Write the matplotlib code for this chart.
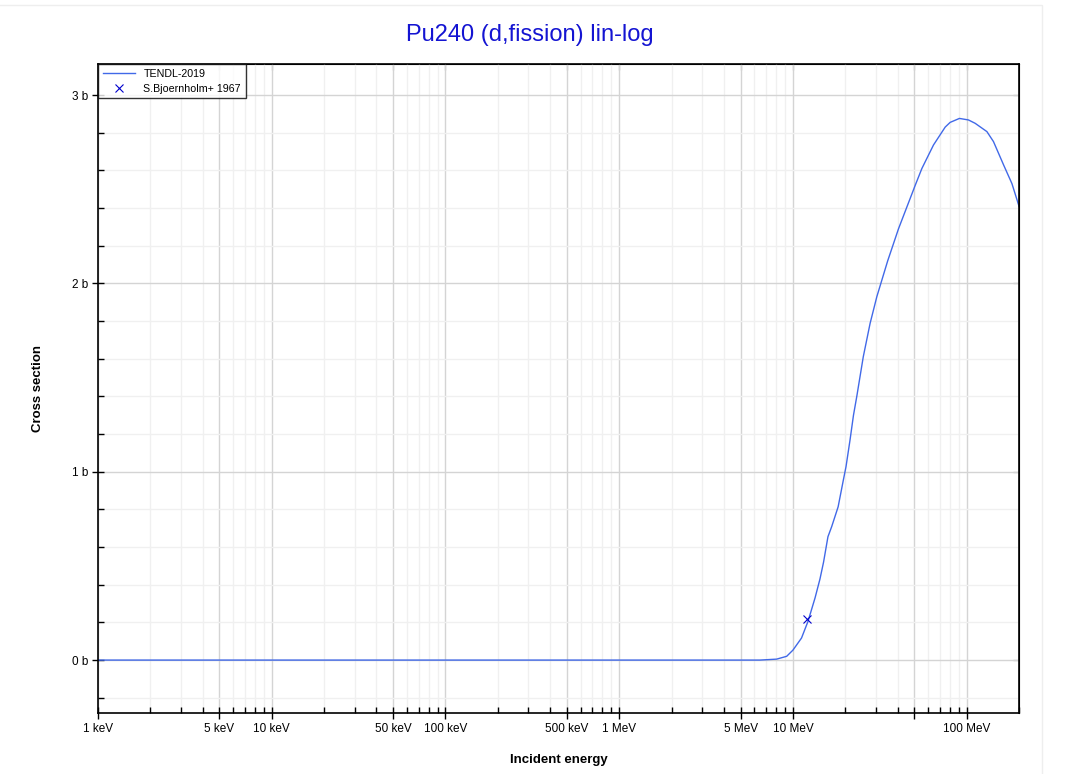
import matplotlib
matplotlib.use("Agg")
import matplotlib.pyplot as plt
from matplotlib.ticker import FixedLocator, NullFormatter
from matplotlib.patches import Rectangle

plt.rcParams['font.family'] = ['Liberation Sans', 'DejaVu Sans']

# TENDL-2019 evaluated curve (energy in MeV, cross section in b)
tendl_energy = [0.001, 0.01, 0.1, 1.0, 5.0, 6.45, 8.05, 9.2, 10.0, 11.2, 12.2, 13.4,
                14.3, 15.0, 15.9, 16.7, 18.2, 19.5, 20.2, 21.3, 22.3, 23.3, 25.4,
                27.8, 30.4, 35.1, 40.5, 50.5, 55.2, 64.4, 75.2, 80.3, 90.8, 102.3,
                111.9, 130.7, 142.6, 162.9, 182.1, 200.0]
tendl_xs = [0.0, 0.0, 0.0, 0.0, 0.0, 0.0, 0.005, 0.02, 0.053, 0.117, 0.205, 0.33,
            0.43, 0.52, 0.655, 0.708, 0.814, 0.956, 1.027, 1.168, 1.30, 1.40, 1.611,
            1.788, 1.93, 2.12, 2.29, 2.52, 2.61, 2.735, 2.83, 2.855, 2.876, 2.868,
            2.85, 2.806, 2.753, 2.63, 2.53, 2.41]

# Experimental point
exp_energy = [12.0]
exp_xs = [0.216]

major_ticks = [0.001, 0.005, 0.01, 0.05, 0.1, 0.5, 1, 5, 10, 50, 100]
major_labels = ['1 keV', '5 keV', '10 keV', '50 keV', '100 keV', '500 keV',
                '1 MeV', '5 MeV', '10 MeV', '', '100 MeV']
y_ticks = [0, 1, 2, 3]
y_labels = ['0 b', '1 b', '2 b', '3 b']

fig = plt.figure(figsize=(10.67, 7.74), dpi=100)
ax = fig.add_axes([98/1067, 1-713/774, (1019-98)/1067, (713-64)/774])

minor_ticks = []
for dec in [0.001, 0.01, 0.1, 1, 10, 100]:
    for m in [2, 3, 4, 6, 7, 8, 9]:
        v = dec * m
        if v <= 200:
            minor_ticks.append(v)
minor_y = [v / 5 for v in range(-1, 16) if v % 5 != 0]

ax.set_xscale('log')
ax.set_xlim(0.001, 200)
ax.set_ylim(-0.281, 3.165)

ax.xaxis.set_major_locator(FixedLocator(major_ticks))
ax.xaxis.set_minor_locator(FixedLocator(minor_ticks))
ax.set_xticklabels(major_labels)
ax.xaxis.set_minor_formatter(NullFormatter())
ax.yaxis.set_major_locator(FixedLocator(y_ticks))
ax.yaxis.set_minor_locator(FixedLocator(minor_y))
ax.set_yticklabels(y_labels)

ax.grid(which='major', color='#d4d4d4', linewidth=1.0)
ax.grid(which='minor', color='#f0f0f0', linewidth=1.0)
ax.set_axisbelow(True)

ax.tick_params(which='major', direction='inout', length=8, width=1, labelsize=8.5,
               colors='black', pad=3)
ax.tick_params(which='minor', direction='in', length=4, width=1)
for s in ax.spines.values():
    s.set_linewidth(1.2)

secx = ax.secondary_xaxis('top')
secx.xaxis.set_major_locator(FixedLocator(major_ticks))
secx.xaxis.set_minor_locator(FixedLocator(minor_ticks))
secx.tick_params(which='both', direction='in', length=4, labeltop=False)
secx.xaxis.set_major_formatter(NullFormatter())
secx.xaxis.set_minor_formatter(NullFormatter())
secy = ax.secondary_yaxis('right')
secy.yaxis.set_major_locator(FixedLocator(y_ticks))
secy.yaxis.set_minor_locator(FixedLocator(minor_y))
secy.tick_params(which='both', direction='in', length=4, labelright=False)
secy.yaxis.set_major_formatter(NullFormatter())

ax.plot(tendl_energy, tendl_xs, color='#4169e8', linewidth=1.0, label='TENDL-2019')
ax.plot(exp_energy, exp_xs, linestyle='none', marker='x', color='#0000cc',
        markersize=6, markeredgewidth=0.8, label='S.Bjoernholm+ 1967')

leg = ax.legend(loc='upper left', fontsize=7.7, frameon=True, fancybox=False,
                borderaxespad=0, handlelength=3.0, borderpad=0.45, labelspacing=0.45,
                handletextpad=0.8)
leg.get_frame().set_edgecolor('black')
leg.get_frame().set_linewidth(1.0)

ax.set_xlabel('Incident energy', fontsize=9.5, fontweight='bold', labelpad=14)
ax.set_ylabel('Cross section', fontsize=9.5, fontweight='bold', labelpad=20)
fig.text(0.497, 1-35/774, 'Pu240 (d,fission) lin-log', color='#1414d2',
         fontsize=17, ha='center', va='center')

fig.patches.append(Rectangle((-0.01, -0.01), 1042/1067 + 0.01, 1 - 5/774 + 0.01,
                             transform=fig.transFigure, fill=False,
                             edgecolor='#eeeeee', linewidth=1.0))

fig.savefig('out.png', dpi=100)
